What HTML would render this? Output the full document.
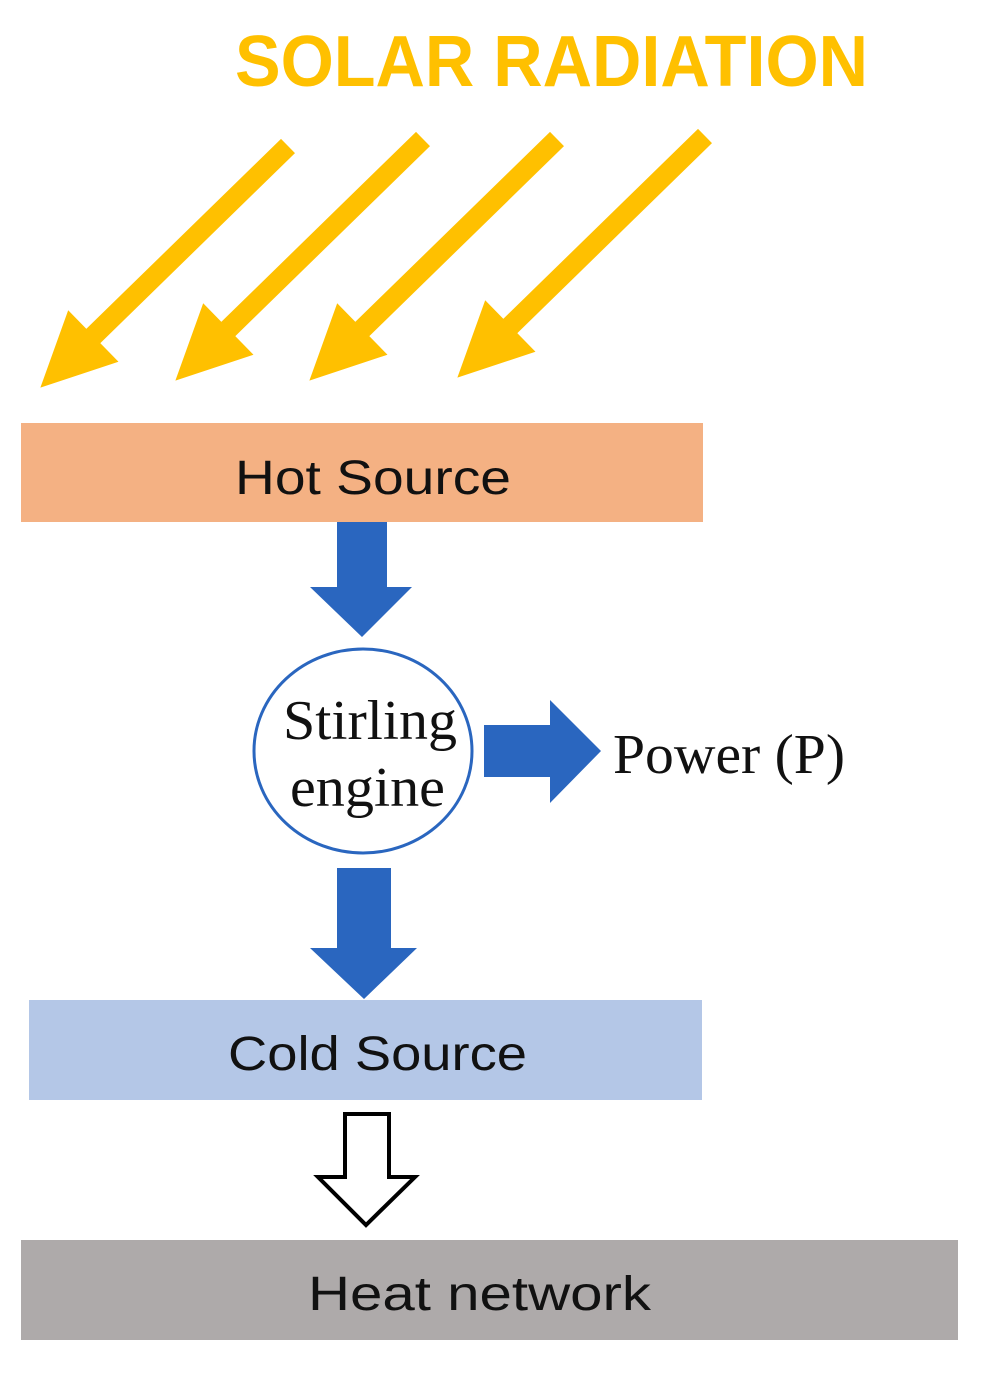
<!DOCTYPE html>
<html><head><style>html,body{margin:0;padding:0;background:#fff}svg{display:block}</style></head>
<body>
<svg width="987" height="1384" viewBox="0 0 987 1384" xmlns="http://www.w3.org/2000/svg">
<text x="235" y="86" font-family="Liberation Sans, sans-serif" font-weight="bold" font-size="72" fill="#ffc000" textLength="633" lengthAdjust="spacingAndGlyphs">SOLAR RADIATION</text>
<g fill="#ffc000">
<g transform="translate(288,146) rotate(135.7)"><rect x="0" y="-10" width="290" height="20"/><polygon points="272,-36 346,0 272,36"/></g>
<g transform="translate(423,139) rotate(135.7)"><rect x="0" y="-10" width="290" height="20"/><polygon points="272,-36 346,0 272,36"/></g>
<g transform="translate(557,139) rotate(135.7)"><rect x="0" y="-10" width="290" height="20"/><polygon points="272,-36 346,0 272,36"/></g>
<g transform="translate(705,136) rotate(135.7)"><rect x="0" y="-10" width="290" height="20"/><polygon points="272,-36 346,0 272,36"/></g>
</g>
<rect x="21" y="423" width="682" height="99" fill="#f4b183"/>
<text x="235" y="494" font-family="Liberation Sans, sans-serif" font-size="48" fill="#111" textLength="276" lengthAdjust="spacingAndGlyphs">Hot Source</text>
<polygon points="337,522 387,522 387,587 412,587 362,637 310,587 337,587" fill="#2a66bf"/>
<ellipse cx="363" cy="751" rx="109" ry="102" fill="#fff" stroke="#2a66bf" stroke-width="3"/>
<text x="283" y="739" font-family="Liberation Serif, serif" font-size="56" fill="#111" textLength="174" lengthAdjust="spacingAndGlyphs">Stirling</text>
<text x="290" y="806" font-family="Liberation Serif, serif" font-size="56" fill="#111" textLength="155" lengthAdjust="spacingAndGlyphs">engine</text>
<polygon points="484,725 550,725 550,700 601,751 550,803 550,777 484,777" fill="#2a66bf"/>
<text x="613" y="773" font-family="Liberation Serif, serif" font-size="56" fill="#111" textLength="232" lengthAdjust="spacingAndGlyphs">Power (P)</text>
<polygon points="337,868 391,868 391,948 417,948 364,999 310,948 337,948" fill="#2a66bf"/>
<rect x="29" y="1000" width="673" height="100" fill="#b4c7e7"/>
<text x="228" y="1070" font-family="Liberation Sans, sans-serif" font-size="48" fill="#111" textLength="299" lengthAdjust="spacingAndGlyphs">Cold Source</text>
<polygon points="345,1114 389,1114 389,1177 415,1177 366,1225 318,1177 345,1177" fill="#fff" stroke="#000" stroke-width="4" stroke-linejoin="miter"/>
<rect x="21" y="1240" width="937" height="100" fill="#aeaaaa"/>
<text x="308" y="1310" font-family="Liberation Sans, sans-serif" font-size="48" fill="#111" textLength="343" lengthAdjust="spacingAndGlyphs">Heat network</text>
</svg>
</body></html>
